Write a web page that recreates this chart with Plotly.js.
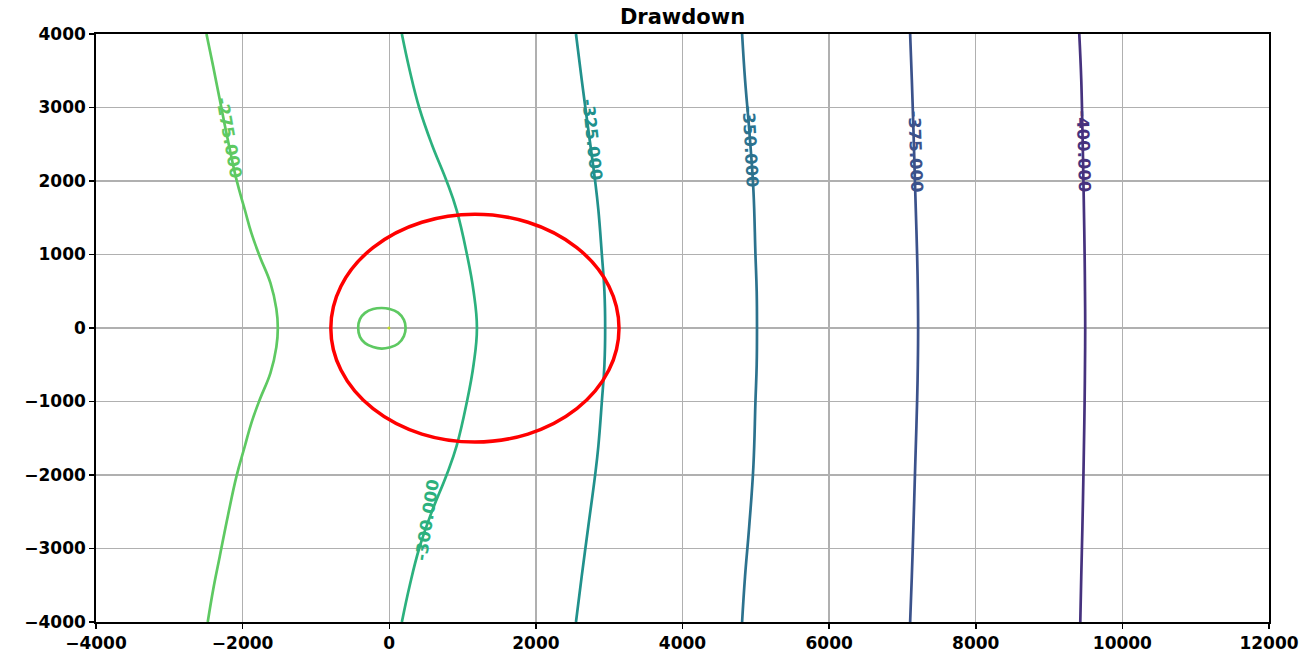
<!DOCTYPE html>
<html>
<head>
<meta charset="utf-8">
<script src="https://cdn.plot.ly/plotly-3.0.1.min.js"></script>
<style>html,body{margin:0;padding:0;background:#fff;}#chart{width:1301px;height:654px;}</style>
</head>
<body>
<div id="chart"></div>
<script>
// Contour levels and their colours
const levels = [-275, -300, -325, -350, -375, -400];
const levelColors = ['#5ec962', '#2cb17e', '#21918c', '#2c728e', '#3b528b', '#46327e'];

// Contour line points
const x275 = [-2493, -2400, -2312, -2200, -2084, -1970, -1880, -1766, -1620, -1540, -1520, -1540, -1620, -1766, -1880, -1970, -2084, -2200, -2312, -2400, -2476];
const y275 = [4000, 3550, 3108, 2550, 2018, 1609, 1290, 973, 610, 260, 0, -260, -610, -973, -1290, -1609, -2018, -2550, -3108, -3550, -4000];

const x300 = [172, 280, 408, 580, 782, 920, 1060, 1150, 1196, 1150, 1060, 920, 782, 580, 408, 280, 172];
const y300 = [4000, 3500, 3000, 2500, 2000, 1600, 1000, 500, 0, -500, -1000, -1600, -2000, -2500, -3000, -3500, -4000];

const x325 = [2547, 2625, 2715, 2806, 2852, 2900, 2935, 2945, 2935, 2900, 2852, 2806, 2715, 2625, 2547];
const y325 = [4000, 3380, 2700, 2018, 1609, 1000, 500, 0, -500, -1000, -1609, -2018, -2700, -3380, -4000];

const x350 = [4813, 4853, 4910, 4967, 4995, 5012, 5016, 5012, 4995, 4967, 4910, 4853, 4813];
const y350 = [4000, 3380, 2700, 1881, 1000, 500, 0, -500, -1000, -1881, -2700, -3380, -4000];

const x375 = [7105, 7128, 7150, 7174, 7200, 7210, 7214, 7210, 7200, 7174, 7150, 7128, 7105];
const y375 = [4000, 3380, 2700, 1881, 1000, 500, 0, -500, -1000, -1881, -2700, -3380, -4000];

const x400 = [9412, 9439, 9455, 9471, 9485, 9490, 9493, 9490, 9485, 9471, 9455, 9439, 9426];
const y400 = [4000, 3380, 2700, 1881, 1000, 500, 0, -500, -1000, -1881, -2700, -3380, -4000];

// Small closed contour around the well
const xLoop = [223, 200, 120, 0, -105, -220, -330, -400, -424, -400, -330, -220, -105, 0, 120, 200, 223];
const yLoop = [0, 110, 210, 260, 272, 258, 205, 120, 0, -120, -205, -258, -280, -265, -215, -110, 0];

// Well point
const wellX = [-5];
const wellY = [0];

// Red ellipse bounds [x0, x1, y0, y1]
const ellipseBounds = [-797, 3134, -1552, 1548];

// Contour label positions and angles
const labelText = ['-275.000', '-300.000', '-325.000', '-350.000', '-375.000', '-400.000'];
const labelX = [-2189, 514, 2765, 4922, 7174, 9467];
const labelY = [2590, -2614, 2563, 2467, 2399, 2399];
const labelAngle = [80, -81, 84, 87, 88, 88.5];

// Axis ticks
const xTicks = [-4000, -2000, 0, 2000, 4000, 6000, 8000, 10000, 12000];
const yTicks = [-4000, -3000, -2000, -1000, 0, 1000, 2000, 3000, 4000];

const xs = [x275, x300, x325, x350, x375, x400];
const ys = [y275, y300, y325, y350, y375, y400];

const traces = xs.map((xx, i) => ({
  type: 'scatter', mode: 'lines', x: xx, y: ys[i],
  line: {color: levelColors[i], width: 2.7, shape: 'spline', smoothing: 1.2},
  hoverinfo: 'skip', showlegend: false
}));
traces.push({
  type: 'scatter', mode: 'lines', x: xLoop, y: yLoop,
  line: {color: levelColors[0], width: 2.7, shape: 'spline', smoothing: 1.2},
  hoverinfo: 'skip', showlegend: false
});
traces.push({
  type: 'scatter', mode: 'markers', x: wellX, y: wellY,
  marker: {color: '#c2df23', size: 3},
  hoverinfo: 'skip', showlegend: false
});

const annotations = labelText.map((t, i) => ({
  x: labelX[i], y: labelY[i], xref: 'x', yref: 'y', text: '<b>' + t + '</b>',
  showarrow: false, textangle: labelAngle[i],
  font: {family: 'DejaVu Sans', size: 16.5, color: levelColors[i]}
}));

const tickFont = {family: 'DejaVu Sans', size: 17, color: '#000'};
const axisCommon = {
  showgrid: true, gridcolor: '#b0b0b0', gridwidth: 1.3,
  zeroline: false, showline: true, linecolor: '#000', linewidth: 1.8, mirror: true,
  ticks: 'outside', ticklen: 5, tickwidth: 1.5, tickcolor: '#000',
  tickfont: tickFont, exponentformat: 'none', separatethousands: false
};

const fmt = v => '<b>' + (v < 0 ? '\u2212' + (-v) : v) + '</b>';

const layout = {
  width: 1301, height: 654,
  margin: {l: 96, r: 32, t: 34, b: 32},
  paper_bgcolor: '#fff', plot_bgcolor: '#fff',
  title: {
    text: '<b>Drawdown</b>', font: {family: 'DejaVu Sans', size: 21, color: '#000'},
    x: 0.5, xref: 'paper', y: 1 - 17 / 654, yref: 'container', yanchor: 'middle'
  },
  xaxis: Object.assign({}, axisCommon, {range: [-4000, 12000], tickvals: xTicks, ticktext: xTicks.map(fmt)}),
  yaxis: Object.assign({}, axisCommon, {range: [-4000, 4000], tickvals: yTicks, ticktext: yTicks.map(fmt)}),
  shapes: [{
    type: 'circle', xref: 'x', yref: 'y',
    x0: ellipseBounds[0], x1: ellipseBounds[1], y0: ellipseBounds[2], y1: ellipseBounds[3],
    line: {color: '#ff0000', width: 3.5}, layer: 'above'
  }],
  annotations: annotations
};

Plotly.newPlot('chart', traces, layout, {displayModeBar: false, staticPlot: true});
</script>
</body>
</html>
